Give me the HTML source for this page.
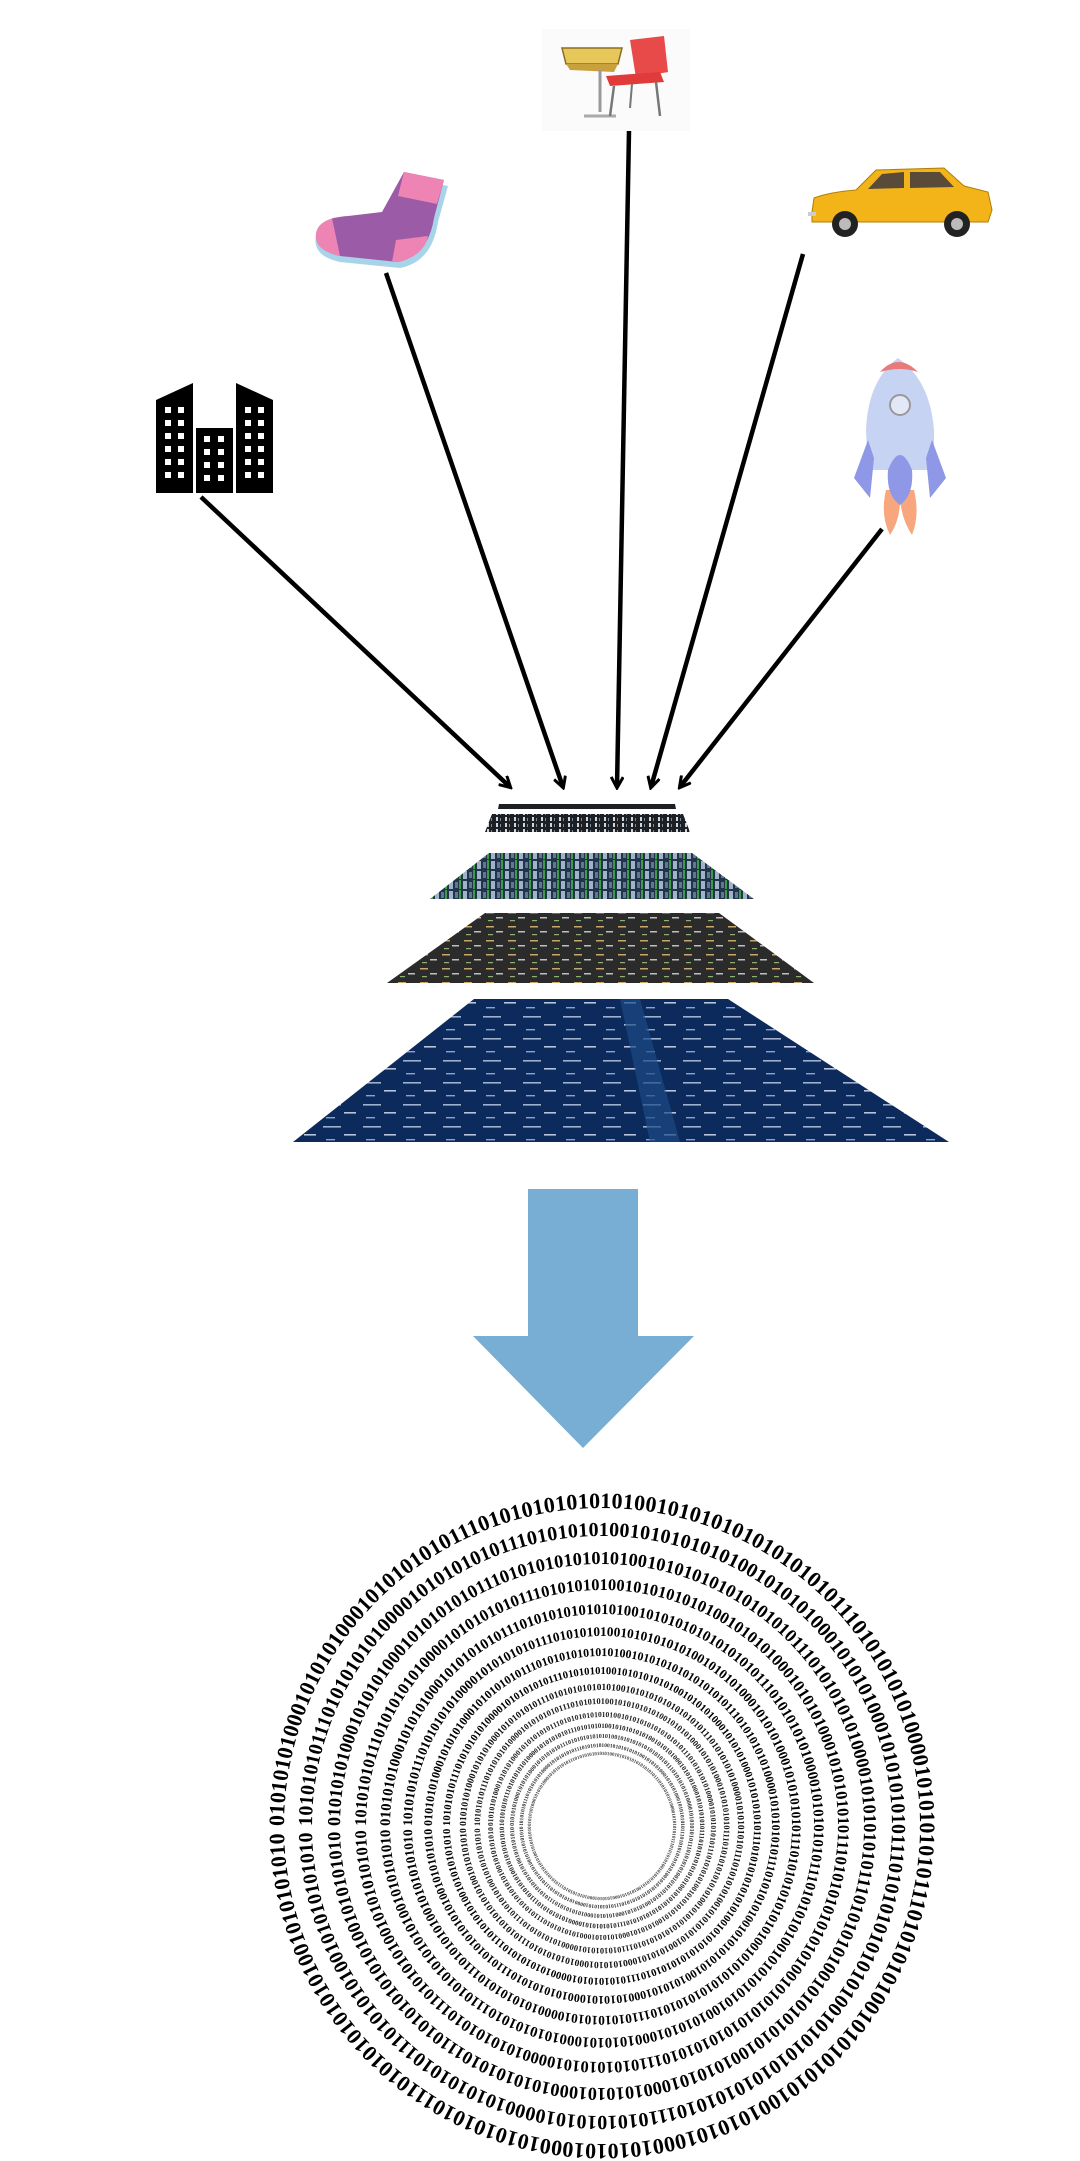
<!DOCTYPE html>
<html><head><meta charset="utf-8"><style>
html,body{margin:0;padding:0;background:#fff;}
svg{display:block;}
</style></head><body>
<svg width="1080" height="2161" viewBox="0 0 1080 2161" xmlns="http://www.w3.org/2000/svg">
<defs>
<marker id="ah" markerWidth="14" markerHeight="14" refX="11" refY="7" orient="auto" markerUnits="userSpaceOnUse" viewBox="0 0 14 14">
<polyline points="1,1 12,7 1,13" fill="none" stroke="#000" stroke-width="3"/>
</marker>
<pattern id="p1" width="9" height="6" patternUnits="userSpaceOnUse">
<rect width="9" height="6" fill="#1c1f24"/><rect x="1" y="1" width="2" height="4" fill="#cfd6dd"/><rect x="5" y="2" width="1" height="3" fill="#7a8a99"/>
</pattern>
<pattern id="p2" width="14" height="10" patternUnits="userSpaceOnUse">
<rect width="14" height="10" fill="#23344a"/><rect x="1" y="1" width="4" height="8" fill="#9fb4c8"/><rect x="7" y="2" width="3" height="6" fill="#5d7891"/><rect x="11" y="0" width="2" height="9" fill="#3f9a4a"/>
</pattern>
<pattern id="p3" width="22" height="14" patternUnits="userSpaceOnUse">
<rect width="22" height="14" fill="#2b2b2b"/><rect x="2" y="2" width="8" height="1.5" fill="#c8a86a"/><rect x="12" y="7" width="7" height="1.5" fill="#bfbfbf"/><rect x="4" y="10" width="5" height="1.2" fill="#8fb07a"/>
</pattern>
<pattern id="p4" width="40" height="22" patternUnits="userSpaceOnUse">
<rect width="40" height="22" fill="#0d2a5c"/><rect x="3" y="4" width="18" height="1.6" fill="#9fb0cf"/><rect x="24" y="12" width="12" height="1.6" fill="#b8c4dc"/><rect x="6" y="17" width="9" height="1.4" fill="#8fa3c7"/>
</pattern>
</defs>

<!-- chair & desk -->
<g>
<rect x="542" y="29" width="148" height="102" fill="#fbfbfb"/>
<path d="M562 48 L622 48 L618 64 L566 64 Z" fill="#e8c75a" stroke="#8a6d20" stroke-width="1.5"/>
<path d="M566 64 L618 64 L614 72 L570 70Z" fill="#c9a13c"/>
<line x1="600" y1="70" x2="600" y2="112" stroke="#999" stroke-width="3"/>
<line x1="584" y1="116" x2="616" y2="116" stroke="#aaa" stroke-width="3"/>
<path d="M630 40 L664 36 L668 72 L636 78 Z" fill="#e84a4a"/>
<path d="M606 76 L660 72 L664 82 L610 86 Z" fill="#e03a3a"/>
<line x1="614" y1="86" x2="610" y2="116" stroke="#777" stroke-width="2.5"/>
<line x1="656" y1="82" x2="660" y2="116" stroke="#777" stroke-width="2.5"/>
<line x1="632" y1="84" x2="630" y2="108" stroke="#777" stroke-width="2"/>
</g>

<!-- sock -->
<g>
<path d="M406 178 L448 186 L438 222 Q432 262 400 268 L340 262 Q312 256 316 236 Q320 218 350 220 L384 216 Z" fill="#a8d4ea"/>
<path d="M404 172 L444 180 L434 218 Q428 256 398 262 L340 256 Q314 250 316 234 Q318 218 348 216 L382 212 Z" fill="#9b5ba6"/>
<path d="M404 172 L444 180 L437 204 L398 196 Z" fill="#ee84b4"/>
<path d="M348 216 Q318 218 316 234 Q314 250 340 256 L332 218 Z" fill="#ee84b4"/>
<path d="M396 240 L428 236 Q424 256 398 262 L392 262 Z" fill="#ee84b4"/>
</g>

<!-- buildings -->
<g fill="#000">
<path d="M156 400 L193 383 L193 493 L156 493 Z"/>
<rect x="196" y="428" width="37" height="65"/>
<path d="M236 383 L273 400 L273 493 L236 493 Z"/>
<g fill="#fff">
<rect x="165" y="407" width="6" height="6"/><rect x="178" y="407" width="6" height="6"/>
<rect x="165" y="420" width="6" height="6"/><rect x="178" y="420" width="6" height="6"/>
<rect x="165" y="433" width="6" height="6"/><rect x="178" y="433" width="6" height="6"/>
<rect x="165" y="446" width="6" height="6"/><rect x="178" y="446" width="6" height="6"/>
<rect x="165" y="459" width="6" height="6"/><rect x="178" y="459" width="6" height="6"/>
<rect x="165" y="472" width="6" height="6"/><rect x="178" y="472" width="6" height="6"/>
<rect x="204" y="436" width="6" height="6"/><rect x="218" y="436" width="6" height="6"/>
<rect x="204" y="449" width="6" height="6"/><rect x="218" y="449" width="6" height="6"/>
<rect x="204" y="462" width="6" height="6"/><rect x="218" y="462" width="6" height="6"/>
<rect x="204" y="475" width="6" height="6"/><rect x="218" y="475" width="6" height="6"/>
<rect x="245" y="407" width="6" height="6"/><rect x="258" y="407" width="6" height="6"/>
<rect x="245" y="420" width="6" height="6"/><rect x="258" y="420" width="6" height="6"/>
<rect x="245" y="433" width="6" height="6"/><rect x="258" y="433" width="6" height="6"/>
<rect x="245" y="446" width="6" height="6"/><rect x="258" y="446" width="6" height="6"/>
<rect x="245" y="459" width="6" height="6"/><rect x="258" y="459" width="6" height="6"/>
<rect x="245" y="472" width="6" height="6"/><rect x="258" y="472" width="6" height="6"/>
</g>
</g>

<!-- car -->
<g>
<path d="M812 212 L814 198 Q830 192 856 190 L876 170 L944 168 L964 186 L988 192 L992 210 L988 222 L812 222 Z" fill="#f2b418" stroke="#b07d05" stroke-width="1"/>
<path d="M882 174 L904 172 L904 188 L868 189 Z" fill="#5a4a3a"/>
<path d="M910 172 L940 172 L954 187 L910 188 Z" fill="#5a4a3a"/>
<rect x="808" y="212" width="8" height="4" fill="#ccc"/>
<circle cx="845" cy="224" r="13" fill="#222"/><circle cx="845" cy="224" r="6" fill="#bbb"/>
<circle cx="957" cy="224" r="13" fill="#222"/><circle cx="957" cy="224" r="6" fill="#bbb"/>
</g>

<!-- rocket -->
<g>
<path d="M898 358 Q930 380 934 430 L934 470 L868 470 L866 430 Q868 380 898 358 Z" fill="#c7d3f2"/>
<path d="M880 372 Q898 352 918 372 Q900 366 880 372Z" fill="#e87a7a"/>
<circle cx="900" cy="405" r="10" fill="#e3e8f6" stroke="#999" stroke-width="2"/>
<path d="M868 440 L854 478 L870 498 L874 458 Z" fill="#8e98e6"/>
<path d="M932 440 L946 478 L930 498 L926 458 Z" fill="#8e98e6"/>
<path d="M886 490 Q880 515 890 535 Q900 520 900 500 Q902 520 912 535 Q920 515 914 490 Z" fill="#f7a67e"/>
<path d="M888 470 Q900 440 912 470 Q914 495 900 505 Q886 495 888 470 Z" fill="#8e98e6"/>
</g>

<!-- arrows -->
<g stroke="#000" stroke-width="4.5" fill="none" marker-end="url(#ah)">
<line x1="201" y1="497" x2="510" y2="787"/>
<line x1="386" y1="273" x2="563" y2="787"/>
<line x1="629" y1="131" x2="617" y2="787"/>
<line x1="803" y1="254" x2="651" y2="787"/>
<line x1="882" y1="529" x2="680" y2="787"/>
</g>

<!-- layers -->
<polygon points="499,804 675,804 676,809 498,809" fill="#1c1f24"/>
<polygon points="492,814 683,814 690,832 485,832" fill="url(#p1)"/>
<polygon points="489,853 692,853 754,899 430,899" fill="url(#p2)"/>
<polygon points="485,913 719,913 814,983 387,983" fill="url(#p3)"/>
<polygon points="474,999 728,999 949,1142 293,1142" fill="url(#p4)"/>
<polygon points="620,999 640,999 680,1142 650,1142" fill="#1c4a86" opacity="0.7"/>

<!-- big arrow -->
<polygon points="528,1189 638,1189 638,1336 694,1336 583,1448 473,1336 528,1336" fill="#78aed3"/>

<!-- binary rings -->
<g font-family="'Liberation Serif', serif" fill="#000" font-weight="bold">
<path id="r1" d="M284 1826 a318 318 0 1 1 636 0 a318 318 0 1 1 -636 0" fill="none"/>
<path id="r2" d="M312 1826 a290 290 0 1 1 580 0 a290 290 0 1 1 -580 0" fill="none"/>
<path id="r3" d="M340 1826 a262 262 0 1 1 524 0 a262 262 0 1 1 -524 0" fill="none"/>
<path id="r4" d="M366 1826 a236 236 0 1 1 472 0 a236 236 0 1 1 -472 0" fill="none"/>
<path id="r5" d="M390 1826 a212 212 0 1 1 424 0 a212 212 0 1 1 -424 0" fill="none"/>
<path id="r6" d="M412 1826 a190 190 0 1 1 380 0 a190 190 0 1 1 -380 0" fill="none"/>
<path id="r7" d="M432 1826 a170 170 0 1 1 340 0 a170 170 0 1 1 -340 0" fill="none"/>
<path id="r8" d="M450 1826 a152 152 0 1 1 304 0 a152 152 0 1 1 -304 0" fill="none"/>
<path id="r9" d="M466 1826 a136 136 0 1 1 272 0 a136 136 0 1 1 -272 0" fill="none"/>
<path id="r10" d="M480 1826 a122 122 0 1 1 244 0 a122 122 0 1 1 -244 0" fill="none"/>
<path id="r11" d="M493 1826 a109 109 0 1 1 218 0 a109 109 0 1 1 -218 0" fill="none"/>
<path id="r12" d="M504 1826 a98 98 0 1 1 196 0 a98 98 0 1 1 -196 0" fill="none"/>
<path id="r13" d="M514 1826 a88 88 0 1 1 176 0 a88 88 0 1 1 -176 0" fill="none"/>
<path id="r14" d="M523 1826 a79 79 0 1 1 158 0 a79 79 0 1 1 -158 0" fill="none"/>
<path id="r15" d="M531 1826 a71 71 0 1 1 142 0 a71 71 0 1 1 -142 0" fill="none"/>
<text font-size="22"><textPath href="#r1" textLength="1990" lengthAdjust="spacing">010101010001010101000101010101011101010101010101001010101010101010101110101010101000010101010101110101010100101010101010010101010001010101000101010101011101010101010101001010101010</textPath></text>
<text font-size="20"><textPath href="#r2" textLength="1815" lengthAdjust="spacing">101010101110101010101000010101010101110101010100101010101010010101010001010101000101010101011101010101010101001010101010101010101110101010101000010101010101110101010100101010101010</textPath></text>
<text font-size="18.3"><textPath href="#r3" textLength="1640" lengthAdjust="spacing">010101010001010101000101010101011101010101010101001010101010101010101110101010101000010101010101110101010100101010101010010101010001010101000101010101011101010101010101001010101010</textPath></text>
<text font-size="16.5"><textPath href="#r4" textLength="1478" lengthAdjust="spacing">101010101110101010101000010101010101110101010100101010101010010101010001010101000101010101011101010101010101001010101010101010101110101010101000010101010101110101010100101010101010</textPath></text>
<text font-size="14.8"><textPath href="#r5" textLength="1328" lengthAdjust="spacing">010101010001010101000101010101011101010101010101001010101010101010101110101010101000010101010101110101010100101010101010010101010001010101000101010101011101010101010101001010101010</textPath></text>
<text font-size="13.3"><textPath href="#r6" textLength="1190" lengthAdjust="spacing">101010101110101010101000010101010101110101010100101010101010010101010001010101000101010101011101010101010101001010101010101010101110101010101000010101010101110101010100101010101010</textPath></text>
<text font-size="11.9"><textPath href="#r7" textLength="1065" lengthAdjust="spacing">010101010001010101000101010101011101010101010101001010101010101010101110101010101000010101010101110101010100101010101010010101010001010101000101010101011101010101010101001010101010</textPath></text>
<text font-size="10.6"><textPath href="#r8" textLength="952" lengthAdjust="spacing">101010101110101010101000010101010101110101010100101010101010010101010001010101000101010101011101010101010101001010101010101010101110101010101000010101010101110101010100101010101010</textPath></text>
<text font-size="9.5" fill="#111"><textPath href="#r9" textLength="852" lengthAdjust="spacing">010101010001010101000101010101011101010101010101001010101010101010101110101010101000010101010101110101010100101010101010010101010001010101000101010101011101010101010101001010101010</textPath></text>
<text font-size="8.5" fill="#1a1a1a"><textPath href="#r10" textLength="764" lengthAdjust="spacing">101010101110101010101000010101010101110101010100101010101010010101010001010101000101010101011101010101010101001010101010101010101110101010101000010101010101110101010100101010101010</textPath></text>
<text font-size="7.6" fill="#222"><textPath href="#r11" textLength="683" lengthAdjust="spacing">010101010001010101000101010101011101010101010101001010101010101010101110101010101000010101010101110101010100101010101010010101010001010101000101010101011101010101010101001010101010</textPath></text>
<text font-size="6.9" fill="#222"><textPath href="#r12" textLength="614" lengthAdjust="spacing">101010101110101010101000010101010101110101010100101010101010010101010001010101000101010101011101010101010101001010101010101010101110101010101000010101010101110101010100101010101010</textPath></text>
<text font-size="6.2" fill="#333"><textPath href="#r13" textLength="551" lengthAdjust="spacing">010101010001010101000101010101011101010101010101001010101010101010101110101010101000010101010101110101010100101010101010010101010001010101000101010101011101010101010101001010101010</textPath></text>
<text font-size="5.5" fill="#333"><textPath href="#r14" textLength="495" lengthAdjust="spacing">101010101110101010101000010101010101110101010100101010101010010101010001010101000101010101011101010101010101001010101010101010101110101010101000010101010101110101010100101010101010</textPath></text>
<text font-size="5" fill="#444"><textPath href="#r15" textLength="445" lengthAdjust="spacing">010101010001010101000101010101011101010101010101001010101010101010101110101010101000010101010101110101010100101010101010010101010001010101000101010101011101010101010101001010101010</textPath></text>
</g>
</svg>
</body></html>
